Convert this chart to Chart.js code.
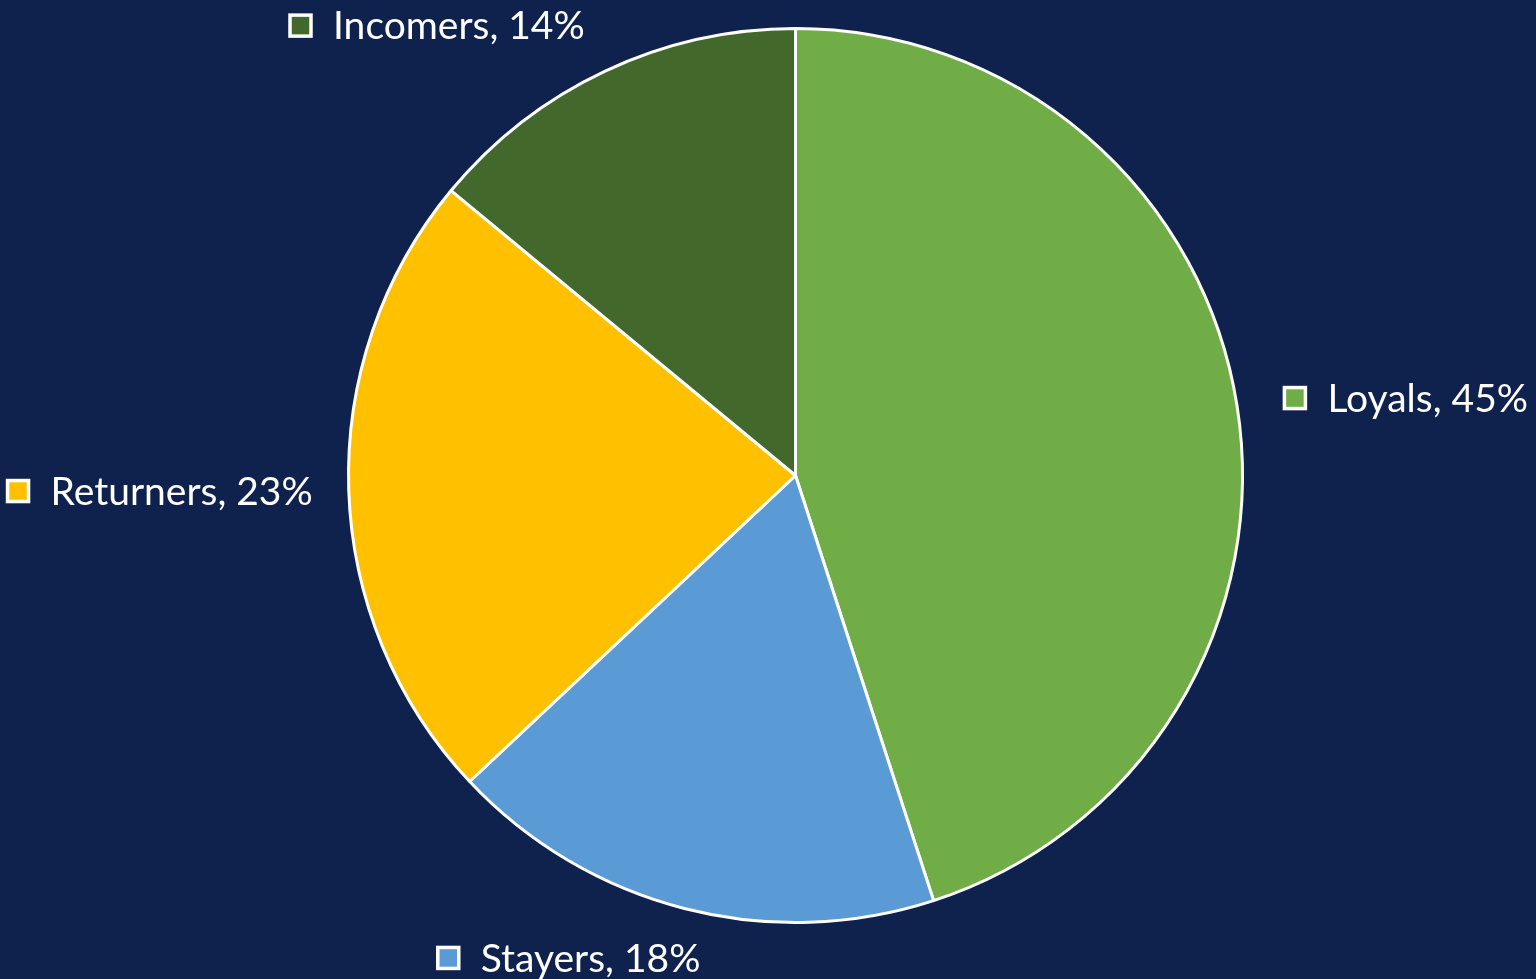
<!DOCTYPE html>
<html>
<head>
<meta charset="utf-8">
<script src="https://cdn.jsdelivr.net/npm/chart.js@4"></script>
<style>
  html, body { margin: 0; padding: 0; background: #0f214d; }
  canvas { display: block; }
</style>
</head>
<body>
<canvas id="pie" width="1536" height="979"></canvas>
<script>
// segments, clockwise from 12 o'clock
const categories = ["Loyals", "Stayers", "Returners", "Incomers"];
const shares = [45, 18, 23, 14];
const colors = ["#70ad47", "#5b9bd5", "#ffc000", "#43682b"];

// small nudges for the label boxes (x, y)
const labelNudge = [[0, 0], [28, 3], [12, 0], [0, -2]];

const outsideLabels = {
  id: "outsideLabels",
  afterDatasetsDraw(chart) {
    const ctx = chart.ctx;
    const meta = chart.getDatasetMeta(0);
    ctx.save();
    ctx.font = "39px Lato, 'Open Sans', sans-serif";
    ctx.textBaseline = "middle";
    meta.data.forEach((arc, i) => {
      const mid = (arc.startAngle + arc.endAngle) / 2;
      const r = arc.outerRadius + 48;
      const ax = arc.x + Math.cos(mid) * r + labelNudge[i][0];
      const ay = arc.y + Math.sin(mid) * r + labelNudge[i][1];
      const text = categories[i] + ", " + shares[i] + "%";
      const box = 21, gap = 22;
      const w = box + gap + ctx.measureText(text).width;
      const left = Math.cos(mid) >= 0 ? ax : ax - w;
      // legend key square
      ctx.fillStyle = colors[i];
      ctx.fillRect(left, ay - box / 2, box, box);
      ctx.strokeStyle = "#ffffff";
      ctx.lineWidth = 3.5;
      ctx.strokeRect(left, ay - box / 2, box, box);
      ctx.fillStyle = "#ffffff";
      ctx.textAlign = "left";
      ctx.fillText(text, left + box + gap, ay + 1);
    });
    ctx.restore();
  }
};

new Chart(document.getElementById("pie"), {
  type: "pie",
  data: {
    labels: categories,
    datasets: [{
      data: shares,
      backgroundColor: colors,
      borderColor: "#ffffff",
      borderWidth: 3
    }]
  },
  options: {
    responsive: false,
    animation: false,
    layout: { padding: { top: 27, bottom: 55, left: 347, right: 292 } },
    plugins: {
      legend: { display: false },
      tooltip: { enabled: false }
    }
  },
  plugins: [outsideLabels]
});
</script>
</body>
</html>
